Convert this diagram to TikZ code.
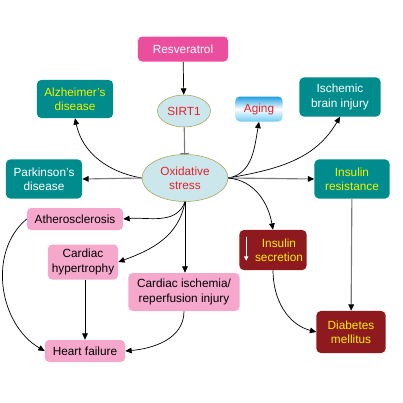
\documentclass[tikz,border=0pt]{standalone}
\usepackage{fontspec}
\setmainfont{Liberation Sans}
\usepackage{xcolor}
\usepackage{tikz}
\usetikzlibrary{positioning, arrows.meta, shapes.geometric}

\definecolor{tealbg}{HTML}{008C8C}
\definecolor{pinkbg}{HTML}{F5A8CB}
\definecolor{magbg}{HTML}{EC4E9E}
\definecolor{darkred}{HTML}{8E1A1F}
\definecolor{ellbg}{HTML}{CBE7EB}
\definecolor{ellline}{HTML}{A6A65A}
\definecolor{redtxt}{HTML}{E8202A}
\definecolor{yeltxt}{HTML}{F2F200}
\definecolor{linegray}{HTML}{7A7A7A}
\definecolor{agetop}{HTML}{1E9FE0}
\definecolor{agebot}{HTML}{6FCDF2}

\tikzset{
  box/.style={rectangle, rounded corners=3pt, inner sep=0pt, align=center},
  tealbox/.style={box, fill=tealbg, text=white},
  pinkbox/.style={box, fill=pinkbg, text=black},
  redbox/.style={box, fill=darkred, text=yeltxt},
  ell/.style={ellipse, fill=ellbg, draw=ellline, text=redtxt, inner sep=0pt, align=center},
  link/.style={->, black, line width=0.5pt},
  glink/.style={-{Triangle[length=4.5pt,width=4pt,color=black]}, linegray, line width=0.8pt}
}

\begin{document}
\begin{tikzpicture}[>={Triangle[length=4.5pt,width=4pt]}, x=0.025cm, y=0.025cm,
    font=\fontsize{8.4}{10.2}\selectfont]
    \fill[white] (0,0) rectangle (403,-403);
    \useasboundingbox (0,0) rectangle (403,-403);

    \node[box, fill=magbg, text=white, minimum width=2.25cm, minimum height=0.625cm] (resv) at (183,-49) {Resveratrol};
    \node[ell, minimum width=1.325cm, minimum height=0.8cm] (sirt) at (184,-111) {SIRT1};
    \node[box, top color=agetop, bottom color=agebot, middle color=white, text=redtxt,
          minimum width=1.175cm, minimum height=0.625cm] (aging) at (259,-109) {Aging};
    \node[tealbox, text=yeltxt, minimum width=1.9cm, minimum height=0.95cm] (alz) at (75,-99) {Alzheimer's\\disease};
    \node[tealbox, minimum width=2.025cm, minimum height=0.975cm] (isch) at (340,-97) {Ischemic\\brain injury};
    \node[tealbox, minimum width=1.9cm, minimum height=0.975cm] (park) at (44,-179) {Parkinson's\\disease};
    \node[ell, minimum width=2.15cm, minimum height=1.175cm] (ox) at (185,-178) {Oxidative\\stress};
    \node[tealbox, text=yeltxt, minimum width=1.875cm, minimum height=0.975cm] (ires) at (352,-179) {Insulin\\resistance};

    \node[pinkbox, minimum width=2.4cm, minimum height=0.55cm] (ath) at (75,-219) {Atherosclerosis};
    \node[pinkbox, minimum width=1.75cm, minimum height=0.875cm] (hyp) at (83,-262) {Cardiac\\hypertrophy};
    \node[pinkbox, minimum width=2.775cm, minimum height=0.95cm] (isr) at (184,-292) {Cardiac ischemia/\\reperfusion injury};
    \node[pinkbox, minimum width=2cm, minimum height=0.55cm] (hf) at (85,-351) {Heart failure};

    \node[redbox, minimum width=1.675cm, minimum height=1cm] (isec) at (273,-250) {};
    \node[text=yeltxt, align=center, inner sep=0pt] (isectxt) at (279,-250) {Insulin\\secretion};
    \draw[white, line width=0.7pt, -{Triangle[length=3pt,width=3pt]}]
        ([shift={(7,-7)}]isec.north west) -- ([shift={(7,-31)}]isec.north west);
    \node[redbox, minimum width=1.725cm, minimum height=1.05cm] (dm) at (351,-332) {Diabetes\\mellitus};

    % upstream
    \path (resv) edge[link] (sirt);
    \path (sirt) edge[linegray, line width=0.8pt, -{Bar[width=6pt]}] (ox);

    % oxidative stress targets
    \path (ox.west) edge[link, out=170, in=-78] (alz.south)
          (ox.west) edge[glink] (park.east)
          (ox.east) edge[link, out=10, in=-100] (aging.south)
          (ox.east) edge[link, out=10, in=-120] (isch.south)
          (ox.east) edge[glink] (ires.west)
          (ox.east) edge[link, out=-5, in=100] (isec.north)
          (ox.south) edge[link, out=-110, in=5] (ath.east)
          (ox.south) edge[link, out=-100, in=20] (hyp.east)
          (ox.south) edge[link] (ox.south |- isr.north);

    % heart failure and diabetes
    \path (ath.west) edge[link, out=220, in=150] (hf.west)
          (hf.north |- hyp.south) edge[link] (hf.north)
          (isr.south) edge[link, out=-90, in=5] (hf.east)
          (ires) edge[glink] (dm)
          (isec.south) edge[link, out=-90, in=165] (dm.west);
\end{tikzpicture}
\end{document}
